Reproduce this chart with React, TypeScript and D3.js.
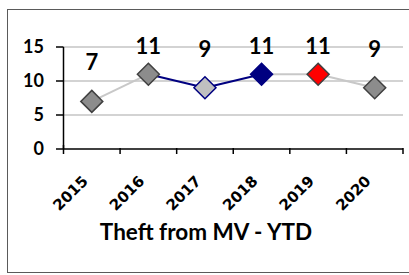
import React from "react";
import * as d3 from "d3";

const years = ["2015", "2016", "2017", "2018", "2019", "2020"];
const values = [7, 11, 9, 11, 11, 9];
const yTicks = [0, 5, 10, 15];
const title = "Theft from MV - YTD";

// styles (kept apart from data)
const markerFill = ["#8c8c8c", "#8c8c8c", "#c0c0c0", "#000080", "#ff0000", "#8c8c8c"];
const markerStroke = ["#404040", "#404040", "#000080", "#000080", "#404040", "#404040"];
const segmentColor = ["#c8c8c8", "#000080", "#000080", "#c8c8c8", "#c8c8c8"];

const W = 409;
const H = 275;

export default function App() {
  const x = d3.scaleBand<string>().domain(years).range([63.5, 403]).padding(0);
  const y = d3.scaleLinear().domain([0, 15]).range([149, 47]);
  const cx = (i: number) => (x(years[i]) as number) + x.bandwidth() / 2;
  const line = d3.line<[number, number]>().x((d) => d[0]).y((d) => d[1]);
  const diamond = (px: number, py: number, r: number) =>
    `M${px},${py - r}L${px + r},${py}L${px},${py + r}L${px - r},${py}Z`;
  const bandEdges = years.map((yr) => x(yr) as number).concat([x.range()[1]]);

  return (
    <svg
      width={W}
      height={H}
      style={{ position: "absolute", left: 0, top: 0, background: "#fff" }}
    >
      <rect x={7.5} y={9.5} width={420} height={263} fill="#fff" stroke="#5a5a5a" strokeWidth={1} />
      {/* gridlines */}
      {yTicks.filter((t) => t > 0).map((t) => (
        <line key={t} x1={63.5} x2={403} y1={y(t)} y2={y(t)} stroke="#c4c4c4" strokeWidth={1.5} />
      ))}
      {/* y axis */}
      <line x1={63.5} x2={63.5} y1={y(15)} y2={y(0)} stroke="#000" strokeWidth={1.5} />
      {yTicks.map((t) => (
        <g key={t}>
          <line x1={56} x2={63.5} y1={y(t)} y2={y(t)} stroke="#000" strokeWidth={1.5} />
          <text
            x={44}
            y={y(t) + 6}
            textAnchor="end"
            fontFamily="Lato, 'Open Sans', sans-serif"
            fontWeight="bold"
            fontSize={18}
            fill="#000"
          >
            {t}
          </text>
        </g>
      ))}
      {/* x axis */}
      <line x1={63.5} x2={403} y1={y(0)} y2={y(0)} stroke="#000" strokeWidth={1.5} />
      {bandEdges.map((bx, i) => (
        <line key={i} x1={bx} x2={bx} y1={y(0) - (i === 0 ? 4 : 1)} y2={y(0) + 5} stroke="#000" strokeWidth={1.5} />
      ))}
      {years.map((yr, i) => (
        <text
          key={yr}
          transform={`translate(${cx(i) - 3},${182}) rotate(-45)`}
          textAnchor="end"
          fontFamily="'DejaVu Sans', Verdana, sans-serif"
          fontWeight="bold"
          fontSize={15}
          fill="#000"
        >
          {yr}
        </text>
      ))}
      {/* line segments */}
      {values.slice(1).map((v, i) => (
        <path
          key={i}
          d={line([
            [cx(i), y(values[i])],
            [cx(i + 1), y(v)],
          ]) as string}
          fill="none"
          stroke={segmentColor[i]}
          strokeWidth={2}
        />
      ))}
      {/* markers */}
      {values.map((v, i) => (
        <path
          key={i}
          d={diamond(cx(i), y(v), 11)}
          fill={markerFill[i]}
          stroke={markerStroke[i]}
          strokeWidth={1.5}
        />
      ))}
      {/* data labels */}
      {values.map((v, i) => (
        <text
          key={i}
          x={cx(i)}
          y={Math.max(y(v) - 31, 54)}
          textAnchor="middle"
          fontFamily="Lato, 'Open Sans', sans-serif"
          fontWeight="bold"
          fontSize={22}
          fill="#000"
        >
          {v}
        </text>
      ))}
      <text
        x={206}
        y={240}
        textAnchor="middle"
        fontFamily="Lato, 'Open Sans', sans-serif"
        fontWeight="bold"
        fontSize={22.5}
        fill="#000"
      >
        {title}
      </text>
    </svg>
  );
}
